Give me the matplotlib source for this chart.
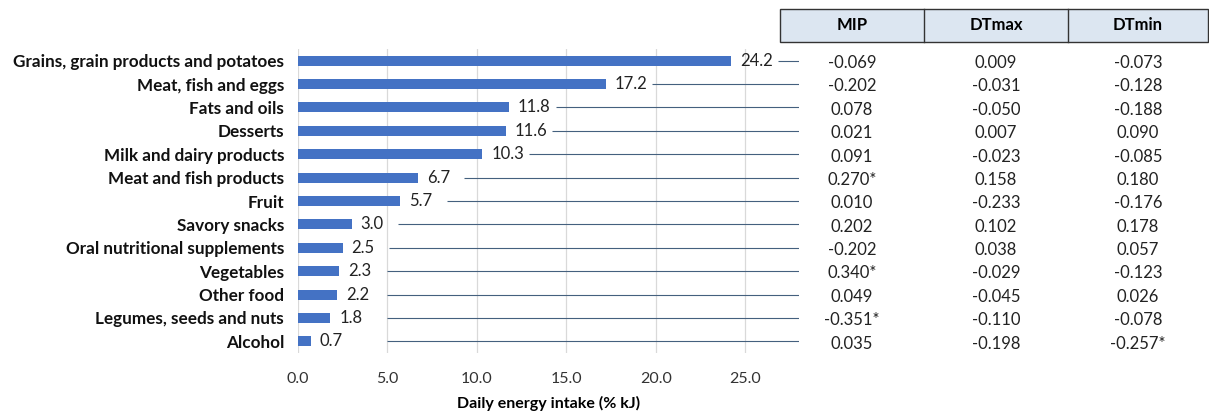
import matplotlib.pyplot as plt
from matplotlib.patches import Rectangle
from matplotlib.lines import Line2D
from matplotlib.transforms import blended_transform_factory

plt.rcParams['font.family'] = ['Lato', 'DejaVu Sans']

# Food groups and share of daily energy intake
foods = ['Grains, grain products and potatoes', 'Meat, fish and eggs', 'Fats and oils',
         'Desserts', 'Milk and dairy products', 'Meat and fish products', 'Fruit',
         'Savory snacks', 'Oral nutritional supplements', 'Vegetables', 'Other food',
         'Legumes, seeds and nuts', 'Alcohol']
energy = [24.2, 17.2, 11.8, 11.6, 10.3, 6.7, 5.7, 3.0, 2.5, 2.3, 2.2, 1.8, 0.7]

# Correlation coefficients per food group
columns = ['MIP', 'DTmax', 'DTmin']
mip = ['-0.069', '-0.202', '0.078', '0.021', '0.091', '0.270*', '0.010',
       '0.202', '-0.202', '0.340*', '0.049', '-0.351*', '0.035']
dtmax = ['0.009', '-0.031', '-0.050', '0.007', '-0.023', '0.158', '-0.233',
         '0.102', '0.038', '-0.029', '-0.045', '-0.110', '-0.198']
dtmin = ['-0.073', '-0.128', '-0.188', '0.090', '-0.085', '0.180', '-0.176',
         '0.178', '0.057', '-0.123', '0.026', '-0.078', '-0.257*']

W, H = 1209, 412
fig = plt.figure(figsize=(W / 100, H / 100), dpi=100)
ax = fig.add_axes([298 / W, 1 - 353 / H, 501 / W, 304 / H])

y = list(range(len(foods)))
ax.barh(y, energy, height=0.43, color='#4472C4', zorder=3)
for yi, v in zip(y, energy):
    ax.text(v + 0.5, yi, f'{v:.1f}', va='center', ha='left', fontsize=12, color='#222222')
    start = max(v + 2.6, 5.0)
    ax.hlines(yi, start, 28, color='#44607e', lw=0.8, zorder=2)

ax.set_xlim(0, 28)
ax.set_ylim(len(foods) - 0.5, -0.5)
ax.set_xticks([0, 5, 10, 15, 20, 25])
ax.set_xticklabels([f'{t:.1f}' for t in [0, 5, 10, 15, 20, 25]], fontsize=11.5, color='#333333')
ax.set_yticks(y)
ax.set_yticklabels(foods, fontsize=12.3, fontweight='bold', color='#111111')
ax.tick_params(axis='y', length=0, pad=10)
ax.tick_params(axis='x', length=0, pad=14)
ax.grid(axis='x', color='#d9d9d9', lw=0.9, zorder=0)
for s in ax.spines.values():
    s.set_visible(False)
ax.set_xlabel('Daily energy intake (% kJ)', fontsize=11.5, fontweight='bold', labelpad=7)

# Table header
x0, x1 = 780 / W, 1208 / W
top, bot = 1 - 9 / H, 1 - 42 / H
fig.patches.append(Rectangle((x0, bot), x1 - x0, top - bot, transform=fig.transFigure,
                             facecolor='#dce6f1', edgecolor='#333333', lw=1.0))
for xd in [924 / W, 1068 / W]:
    fig.lines.append(Line2D([xd, xd], [bot, top], transform=fig.transFigure, color='#333333', lw=1.0))
centers = [852 / W, 996 / W, 1138 / W]
for cx, name in zip(centers, columns):
    fig.text(cx, (top + bot) / 2, name, ha='center', va='center', fontsize=12, fontweight='bold')

# Table body aligned with bar rows
tr = blended_transform_factory(fig.transFigure, ax.transData)
for yi in y:
    for cx, col in zip(centers, [mip, dtmax, dtmin]):
        ax.text(cx, yi + 0.1, col[yi], transform=tr, ha='center', va='center',
                fontsize=12, color='#222222', clip_on=False)

fig.savefig('out.png', dpi=100)
